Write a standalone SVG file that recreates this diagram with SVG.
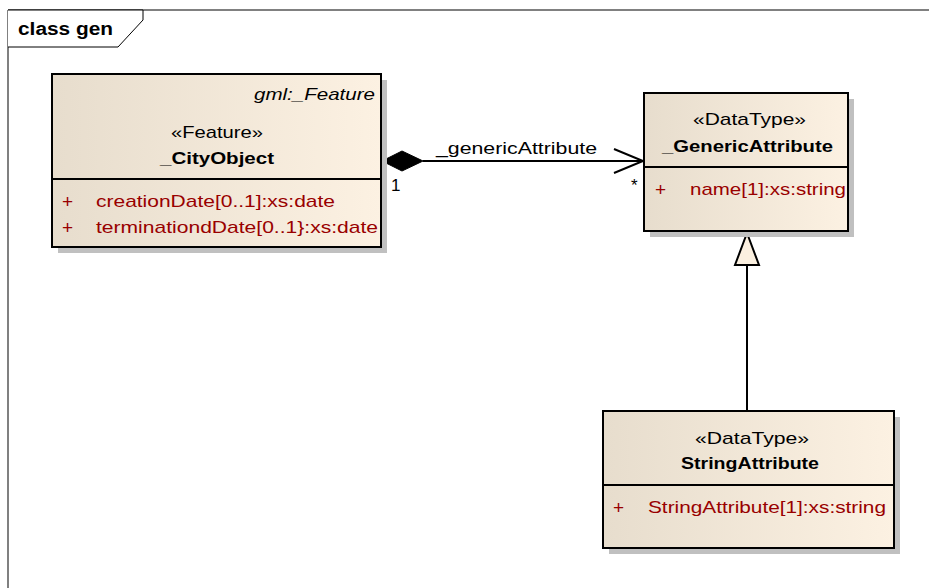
<svg xmlns="http://www.w3.org/2000/svg" width="929" height="588" viewBox="0 0 929 588">
<style>
text{font-family:"Liberation Sans",Arial,sans-serif;font-size:17px;fill:#000}
.b{font-weight:bold}
.i{font-style:italic}
.a{fill:#990000}
.p{font-size:19px}
.box{fill:url(#g);stroke:#000;stroke-width:2}
.sh{fill:#c0c0c0}
.ln{stroke:#000;stroke-width:2;fill:none}
</style>
<defs>
<linearGradient id="g" x1="0" y1="0" x2="1" y2="0">
<stop offset="0" stop-color="#e7ddcd"/>
<stop offset="1" stop-color="#fcf1e2"/>
</linearGradient>
</defs>
<rect width="929" height="588" fill="#fff"/>
<g id="frame">
<path d="M8,10 H929 M8,10 V588" stroke="#808080" stroke-width="2" fill="none"/>
<path d="M8,10 H143 V20 L118,47 H8" stroke="#000" stroke-width="1" fill="#fff"/>
<text x="18" y="35" class="b" style="font-size:18px" textLength="95" lengthAdjust="spacingAndGlyphs">class gen</text>
</g>
<g id="connectors">
<line class="ln" x1="423" y1="161" x2="643" y2="161"/>
<path d="M382,161 L402,151 L423,161 L402,171 Z" fill="#000" stroke="#000" stroke-width="1"/>
<path class="ln" d="M614,149 L643,161 L614,173"/>
<text x="436" y="154" textLength="161" lengthAdjust="spacingAndGlyphs">_genericAttribute</text>
<text x="391" y="191">1</text>
<text x="631" y="191">*</text>
<line class="ln" x1="747" y1="265" x2="747" y2="410"/>
<path d="M747,233 L759,265 L735,265 Z" fill="#fbf0e0" stroke="#000" stroke-width="2" stroke-linejoin="miter"/>
</g>
<g id="CityObject">
<rect class="sh" x="58" y="80" width="329" height="173"/>
<rect class="box" x="52" y="74" width="329" height="173"/>
<line class="ln" x1="52" y1="179" x2="381" y2="179"/>
<text x="375" y="100" class="i" text-anchor="end" textLength="121" lengthAdjust="spacingAndGlyphs">gml:_Feature</text>
<text x="171" y="138" textLength="92" lengthAdjust="spacingAndGlyphs">«Feature»</text>
<text x="160" y="164" class="b" textLength="114" lengthAdjust="spacingAndGlyphs">_CityObject</text>
<text x="62" y="208" class="a p">+</text>
<text x="96" y="207" class="a" textLength="239" lengthAdjust="spacingAndGlyphs">creationDate[0..1]:xs:date</text>
<text x="62" y="234" class="a p">+</text>
<text x="96" y="233" class="a" textLength="282" lengthAdjust="spacingAndGlyphs">terminationdDate[0..1}:xs:date</text>
</g>
<g id="GenericAttribute">
<rect class="sh" x="650" y="99" width="204" height="138"/>
<rect class="box" x="644" y="93" width="204" height="138"/>
<line class="ln" x1="644" y1="167" x2="848" y2="167"/>
<text x="693" y="125" textLength="113" lengthAdjust="spacingAndGlyphs">«DataType»</text>
<text x="662" y="152" class="b" textLength="171" lengthAdjust="spacingAndGlyphs">_GenericAttribute</text>
<text x="655" y="196" class="a p">+</text>
<text x="690" y="195" class="a" textLength="156" lengthAdjust="spacingAndGlyphs">name[1]:xs:string</text>
</g>
<g id="StringAttribute">
<rect class="sh" x="609" y="417" width="291" height="137"/>
<rect class="box" x="603" y="411" width="291" height="137"/>
<line class="ln" x1="603" y1="485" x2="894" y2="485"/>
<text x="695" y="444" textLength="114" lengthAdjust="spacingAndGlyphs">«DataType»</text>
<text x="681" y="469" class="b" textLength="138" lengthAdjust="spacingAndGlyphs">StringAttribute</text>
<text x="613" y="514" class="a p">+</text>
<text x="648" y="513" class="a" textLength="238" lengthAdjust="spacingAndGlyphs">StringAttribute[1]:xs:string</text>
</g>
</svg>
